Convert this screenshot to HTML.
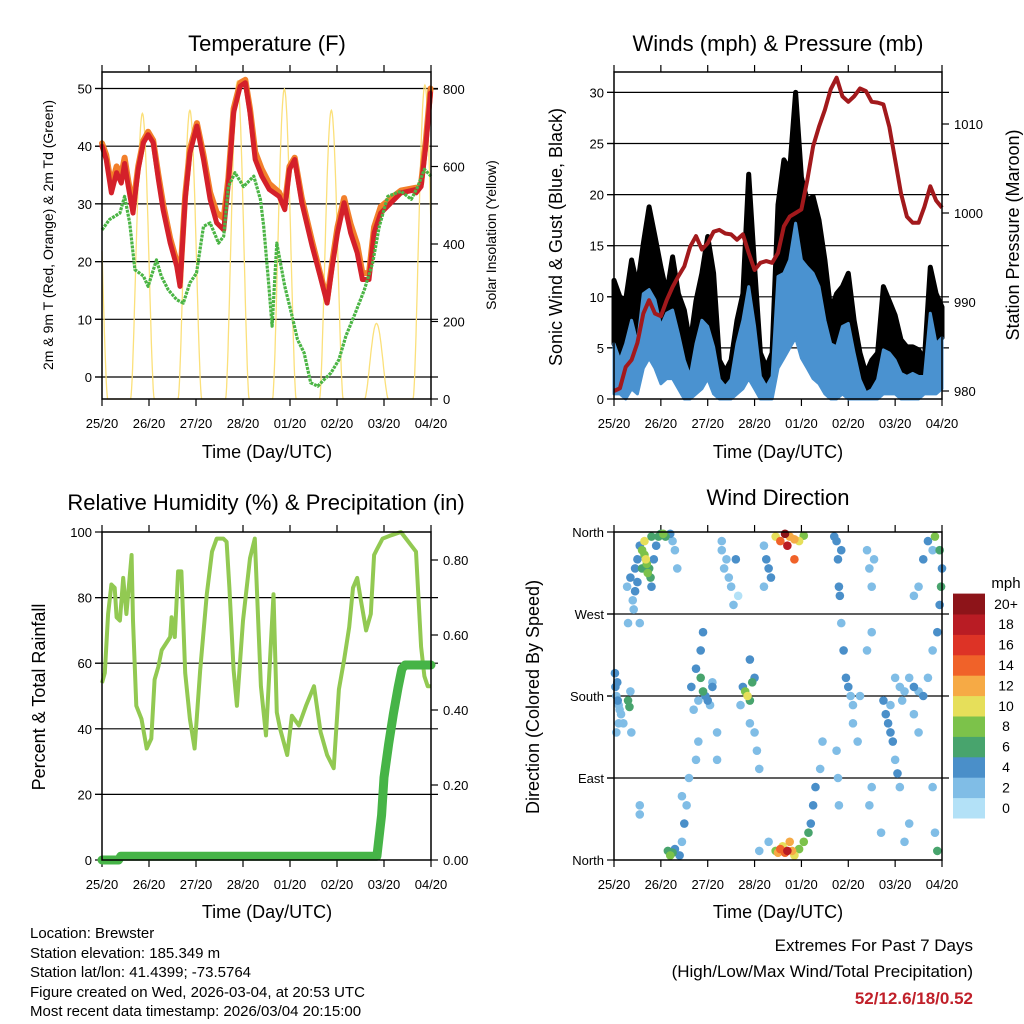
<!DOCTYPE html>
<html><head><meta charset="utf-8"><style>
body{margin:0;background:#fff;}
svg{display:block;font-family:"Liberation Sans",sans-serif;}
</style></head><body>
<svg id="s" width="1024" height="1024" viewBox="0 0 1024 1024">
<rect width="1024" height="1024" fill="#fff"/>
<g font-size="22" text-anchor="middle" fill="#000">
<text x="267" y="51">Temperature (F)</text>
<text x="778" y="51">Winds (mph) &amp; Pressure (mb)</text>
<text x="266" y="510">Relative Humidity (%) &amp; Precipitation (in)</text>
<text x="778" y="505">Wind Direction</text>
</g>
<g font-size="18" text-anchor="middle">
<text x="267" y="458">Time (Day/UTC)</text>
<text x="778" y="458">Time (Day/UTC)</text>
<text x="267" y="918">Time (Day/UTC)</text>
<text x="778" y="918">Time (Day/UTC)</text>
<text transform="translate(53,235) rotate(-90)" font-size="14">2m &amp; 9m T (Red, Orange) &amp; 2m Td (Green)</text>
<text transform="translate(496,235) rotate(-90)" font-size="14">Solar Insolation (Yellow)</text>
<text transform="translate(562,237) rotate(-90)">Sonic Wind &amp; Gust (Blue, Black)</text>
<text transform="translate(1019,235) rotate(-90)">Station Pressure (Maroon)</text>
<text transform="translate(45,697) rotate(-90)">Percent &amp; Total Rainfall</text>
<text transform="translate(539,697) rotate(-90)">Direction (Colored By Speed)</text>
</g>
<g font-size="15">
<text x="30" y="938">Location: Brewster</text>
<text x="30" y="958">Station elevation: 185.349 m</text>
<text x="30" y="977">Station lat/lon: 41.4399; -73.5764</text>
<text x="30" y="997">Figure created on Wed, 2026-03-04, at 20:53 UTC</text>
<text x="30" y="1016">Most recent data timestamp: 2026/03/04 20:15:00</text>
</g>
<g font-size="17" text-anchor="end">
<text x="973" y="951">Extremes For Past 7 Days</text>
<text x="973" y="977">(High/Low/Max Wind/Total Precipitation)</text>
<text x="973" y="1004" font-weight="bold" fill="#c0202a">52/12.6/18/0.52</text>
</g>
<g id="plots"></g>
</svg>
<script>
const dayLabels=["25/20","26/20","27/20","28/20","01/20","02/20","03/20","04/20"];
const tempT=[0,0.09,0.2,0.31,0.41,0.48,0.56,0.66,0.77,0.88,0.98,1.09,1.2,1.3,1.45,1.59,1.66,1.77,1.87,2.02,2.16,2.3,2.44,2.59,2.69,2.8,2.94,3.05,3.15,3.26,3.4,3.56,3.77,3.89,3.99,4.1,4.25,4.47,4.64,4.79,4.9,5.01,5.15,5.29,5.43,5.54,5.68,5.79,5.93,6.15,6.36,6.68,6.68,6.79,6.89,6.99];
const tempRed=[40,37.7,31.9,35.4,33.6,37,33,28.4,36,40.6,42,40.6,34.2,29,23.2,19.2,15.7,30.8,38.8,43.5,37.7,30.8,26.7,25.5,33.6,45.8,50.4,51,45.8,37.7,34.8,32.5,31.3,29,36,37.7,30.2,22.7,17.5,12.8,19.2,25,30.2,25,21.5,16.9,16.9,25,28.4,30.2,31.9,32.5,31.9,33,40,49.2];
const tempOrange=[40.5,38.5,33,36.5,35,38,34,29.5,36.5,41,42.5,41,35,30,24,20,16.5,31.5,39.5,44,38.5,32,28.5,27.5,34.5,46.5,51,51.5,46.5,39,36,33.5,32,29.8,36.5,38,31,23.5,18,13.3,20,26,31,26.5,23,18,18,26,29.5,31,32.3,32.8,32.2,33.5,41,50];
const tdT=[0,0.16,0.38,0.48,0.59,0.7,0.88,0.98,1.16,1.26,1.41,1.59,1.73,1.87,2.01,2.16,2.3,2.48,2.59,2.69,2.83,3.01,3.23,3.37,3.44,3.55,3.62,3.72,3.89,4.01,4.16,4.3,4.44,4.59,4.72,4.87,5.04,5.19,5.39,5.58,5.76,5.9,6.08,6.36,6.58,6.72,6.86,7];
const tdVals=[25.5,27.3,28.4,31.3,26.7,18.6,17.5,15.7,20.3,17.5,15.1,13.4,12.8,16.3,18,26.1,26.7,23.2,24.4,33,35.4,33,34.8,30.8,26.1,15.7,8.8,23.2,15.7,11.7,6.5,4.2,-1,-1.6,-0.5,0.7,3,7.1,11.1,15.1,19.8,26.1,31.3,32.2,30.8,33,36,34.8];
const solarCenters=[-0.13,0.86,1.87,2.88,3.88,4.88,5.84,6.87];
const solarPeaks=[700,737,745,820,800,745,195,810];
const windT=[0,0.125,0.25,0.375,0.5,0.625,0.75,0.875,1,1.125,1.25,1.375,1.5,1.625,1.75,1.875,2,2.125,2.25,2.375,2.5,2.625,2.75,2.875,3,3.125,3.25,3.375,3.5,3.625,3.75,3.875,4,4.125,4.25,4.375,4.5,4.625,4.75,4.875,5,5.125,5.25,5.375,5.5,5.625,5.75,5.875,6,6.125,6.25,6.375,6.5,6.625,6.75,6.875,7];
const gustVals=[11.6,10,9.7,13.6,11,15.2,18.8,15.9,12.9,10.3,13.9,10.3,8.7,5.4,9.6,12.3,15.9,12.3,3.8,2.7,3.8,7.7,10.3,22,12.9,4.5,3.1,4.5,19,23.4,22.4,30,21.7,19.4,19.8,17.5,13.6,8.7,10.3,11,12.3,7.7,4.5,2.5,3.8,4.5,11,9.6,8.2,5.8,5.1,5.1,4.8,3.8,12.9,10.3,9];
const windHi=[5.4,3.8,5.4,7.7,5.4,10.3,10.7,9.7,7.1,8.4,8.7,6.4,3.8,2.2,5.4,7.7,7.1,5.1,1.9,1.2,1.9,5.4,7.7,11,7.1,2.2,1.2,2.2,12,12.3,13.6,17.2,13.6,12.9,12.3,11,7.7,5.4,5.1,7.1,7.4,4.5,1.9,0.6,0.9,1.9,4.8,4.5,3.8,2.5,2.2,2.5,2.2,2.2,8.4,5.4,6];
const windLo=[0.5,0.5,0,1,0.5,3,4,3,1.5,2,2,1,0,0,0.5,1,2,0.5,0,0,0,0.5,1,2,1,0,0,0,3,4,5,6,4,3,2,1.5,0.5,0,0,0.5,0,0,0,0,0,0,0.5,0.5,0.5,0,0,0,0,0.5,0.5,0.5,1];
const pressVals=[980,980.3,982.7,983.5,985.4,988.7,990.2,988.7,988.4,990.2,991.7,992.9,994,996.2,997.4,995.9,996.6,997.9,998.1,997.7,997.6,997,997.6,995.5,993.6,994.4,994.6,994.4,995.5,998.5,999.6,1000,1000.4,1003.7,1007.5,1009.7,1011.6,1013.9,1015.2,1013.1,1012.5,1013.1,1014,1013.7,1012.5,1012.4,1012.2,1009.7,1006,1002.2,999.6,998.9,998.9,1000.7,1003,1001.4,1000.6];
const rhT=[0,0.06,0.13,0.2,0.27,0.31,0.38,0.45,0.52,0.63,0.66,0.73,0.84,0.95,1.05,1.12,1.2,1.27,1.45,1.48,1.55,1.62,1.69,1.77,1.87,1.97,2.09,2.23,2.34,2.44,2.58,2.65,2.71,2.8,2.87,3.0,3.15,3.25,3.38,3.49,3.65,3.72,3.79,3.94,4.04,4.19,4.34,4.51,4.65,4.79,4.93,5.04,5.15,5.26,5.34,5.43,5.51,5.62,5.72,5.79,5.86,5.97,6.15,6.36,6.68,6.79,6.86,6.93,7];
const rhVals=[54,57,75,84,83,74,73,86,75,93,73,47,43,34,37,55,59,64,68,74,68,88,88,57,43,34,58,81,94,98,98,97,83,58,47,73,92,98,53,38,81,45,40,32,44,41,47,53,39,32,28,52,61,71,83,86,79,70,75,93,95,98,99,100,94,65,56,53,53];
const precipT=[0,0.35,0.4,5.85,5.95,6.0,6.1,6.2,6.3,6.38,6.45,7];
const precipVals=[0,0,0.01,0.01,0.12,0.22,0.31,0.39,0.46,0.51,0.52,0.52];
const dirT=[0.02,0.03,0.05,0.08,0.1,0.12,0.15,0.2,0.07,0.3,0.33,0.35,0.05,0.37,0.1,
0.45,0.5,0.55,0.6,0.65,0.68,0.7,0.72,0.75,0.78,0.8,0.85,0.9,0.95,1.0,1.05,1.1,1.2,1.25,1.3,0.5,0.45,0.4,0.42,0.35,0.28,0.3,0.55,0.6,0.65,0.8,1.35,
1.15,1.2,1.25,1.3,1.4,1.45,1.5,1.45,1.55,1.6,0.55,0.55,
1.65,1.75,1.85,1.9,1.95,2.0,1.8,1.7,2.05,2.1,1.85,1.9,2.2,2.2,1.8,1.75,2.1,
2.3,2.35,2.4,2.45,2.5,2.55,2.6,2.3,2.65,
2.75,2.8,2.85,2.9,2.95,3.0,2.9,3.0,3.05,3.1,2.7,2.9,
3.45,3.5,3.55,3.6,3.65,3.7,3.75,3.8,3.85,3.95,4.05,4.15,4.2,4.25,4.3,4.4,4.45,3.3,3.1,
3.2,3.25,3.3,3.35,3.2,3.45,3.55,3.65,3.7,3.75,3.85,3.95,4.05,3.85,
4.75,4.78,4.8,4.82,4.85,4.9,4.95,5.0,5.05,5.1,4.75,4.78,4.8,5.1,5.2,5.25,4.85,4.7,
5.4,5.45,5.5,5.55,5.5,5.4,5.5,5.45,5.7,
5.75,5.8,5.85,5.9,5.95,6.0,6.05,6.1,5.9,6.0,6.1,6.15,6.2,
6.3,6.4,6.5,6.6,6.7,6.8,6.9,6.95,7.0,6.95,6.98,6.8,6.6,6.5,6.4,6.7,6.85,6.9,6.85,6.8,6.3,6.2,6.4,6.5];
const dirVals=[205,190,180,175,170,165,160,150,195,175,168,185,140,140,150,
320,330,345,340,335,330,325,315,320,310,300,330,345,355,358,358,355,358,350,340,305,295,285,275,310,300,260,260,320,350,355,320,
10,5,8,12,5,20,40,70,60,90,60,50,
190,210,200,185,180,175,175,165,170,190,230,250,140,110,130,110,195,
340,320,330,310,300,280,330,350,290,
190,185,180,175,195,200,220,140,120,100,170,150,
10,8,12,15,8,10,20,10,5,12,20,30,40,60,80,100,130,20,10,
345,330,320,310,300,355,350,358,345,355,352,350,356,330,
350,330,300,290,260,230,200,190,180,170,120,90,60,150,130,180,340,355,
340,320,300,330,250,230,80,60,30,
175,160,150,140,130,110,95,80,170,200,190,175,185,
200,190,185,180,200,230,250,280,320,340,300,340,330,300,290,350,355,10,30,80,40,20,160,140];
const dirSpeed=[3,4,2,3,2,2,2,1,4,6,6,2,1,1,1,
4,4,4,7,8,9,7,7,6,5,4,4,4,5,6,7,5,4,2,2,3,3,2,2,4,1,1,2,6,9,5,1,
5,7,6,4,4,2,3,2,1,1,1,1,
3,4,5,6,4,3,2,2,2,3,4,4,1,1,1,2,1,
1,1,2,1,2,1,3,1,0,
4,7,10,6,5,3,3,1,1,1,2,2,
8,11,13,10,14,18,11,12,9,8,7,6,4,4,3,2,2,1,1,
2,3,3,3,1,10,14,19,17,12,11,9,8,13,
4,4,4,3,2,4,4,3,2,2,2,2,2,1,1,1,4,4,
1,1,1,2,1,1,2,1,1,
3,3,4,3,3,2,3,2,2,2,2,2,2,
2,3,2,3,2,2,3,4,3,5,6,2,3,1,1,4,7,6,2,2,1,1,2,1];
const cbLabels=["0","2","4","6","8","10","12","14","16","18","20+"];
const cbColors=["#b3e1f7","#80bde6","#4a8fc9","#48a46d","#7cc24a","#e6df5a","#f6aa45","#f06229","#dd3326","#b91c24","#8d1419"];

const NS="http://www.w3.org/2000/svg";
const root=document.getElementById("plots");
function mk(tag,attrs,parent){const e=document.createElementNS(NS,tag);for(const k in attrs)e.setAttribute(k,attrs[k]);(parent||root).appendChild(e);return e;}
function pathOf(xs,ys){let d="";for(let i=0;i<xs.length;i++)d+=(i?"L":"M")+xs[i].toFixed(1)+","+ys[i].toFixed(1);return d;}

const P1={x0:102,x1:431,y0:72,y1:399};
const P2={x0:614,x1:942,y0:72,y1:399};
const P3={x0:102,x1:431,y0:532,y1:860};
const P4={x0:614,x1:942,y0:532,y1:860};
function xs(P){return t=>P.x0+t*(P.x1-P.x0)/7;}
const x1=xs(P1),x2=xs(P2),x3=xs(P3),x4=xs(P4);
const yT=v=>377-v*5.77, ySol=v=>399-v*310/800;
const yW=v=>399-v*10.22, yP=p=>391-(p-980)*8.9;
const yRH=v=>860-v*3.28, yPr=v=>860-v*375;
const yD=d=>860-d*328/360;

function frame(P,name,gridYs,leftTicks,rightTicks){
  const g=mk("g",{});
  
  
  gridYs.forEach(y=>{const l=mk("line",{x1:P.x0-7,x2:P.x1+7,y1:y,y2:y,stroke:"#000","stroke-width":1.2},g);
    
    });
  for(let d=0;d<=7;d++){const x=P.x0+d*(P.x1-P.x0)/7;
    mk("line",{x1:x,x2:x,y1:P.y1,y2:P.y1+7,stroke:"#000","stroke-width":1.2},g);
    mk("line",{x1:x,x2:x,y1:P.y0,y2:P.y0-7,stroke:"#000","stroke-width":1.2},g);
    const t=mk("text",{x:x,y:P.y1+29,"font-size":13,"text-anchor":"middle"},g);t.textContent=dayLabels[d];
    
    }
  leftTicks.forEach(([y,s])=>{mk("line",{x1:P.x0-7,x2:P.x0,y1:y,y2:y,stroke:"#000","stroke-width":1.2},g);
    const t=mk("text",{x:P.x0-10,y:y+5,"font-size":13,"text-anchor":"end"},g);t.textContent=s;
    
    });
  rightTicks.forEach(([y,s])=>{mk("line",{x1:P.x1,x2:P.x1+7,y1:y,y2:y,stroke:"#000","stroke-width":1.2},g);
    const t=mk("text",{x:P.x1+12,y:y+5,"font-size":13,"text-anchor":"start"},g);t.textContent=s;
    
    });
  return g;
}
function box(P){const r=mk("rect",{x:P.x0,y:P.y0,width:P.x1-P.x0,height:P.y1-P.y0,fill:"none",stroke:"#000","stroke-width":1.5});
  
  }

// ---- Panel 1
frame(P1,'temperature',[0,10,20,30,40,50].map(yT),[0,10,20,30,40,50].map(v=>[yT(v),String(v)]),[0,200,400,600,800].map(v=>[ySol(v),String(v)]));
{
  const sx=[],sy=[];
  for(let i=0;i<=700;i++){const t=i/100;let v=0;
    solarCenters.forEach((c,k)=>{const u=(t-c)/0.25;if(Math.abs(u)<1){v=Math.max(v,solarPeaks[k]*Math.pow(Math.cos(u*Math.PI/2),1.6));}});
    sx.push(x1(t));sy.push(ySol(v));}
  const s=mk("path",{d:pathOf(sx,sy),fill:"none",stroke:"#fbe07a","stroke-width":1.3});
  
  
  const o=mk("path",{d:pathOf(tempT.map(x1),tempOrange.map(yT)),fill:"none",stroke:"#f27f2a","stroke-width":6,"stroke-linejoin":"round","stroke-linecap":"round"});
  
  
  const r=mk("path",{d:pathOf(tempT.map(x1),tempRed.map(yT)),fill:"none",stroke:"#d4202a","stroke-width":5,"stroke-linejoin":"round","stroke-linecap":"round"});
  
  
  const g=mk("path",{d:pathOf(tdT.map(x1),tdVals.map(yT)),fill:"none",stroke:"#4bb545","stroke-width":3.2,"stroke-dasharray":"3 1","stroke-linejoin":"round"});
  
  
}
box(P1);

// ---- Panel 2
frame(P2,'winds',[5,10,15,20,25,30].map(yW),[0,5,10,15,20,25,30].map(v=>[yW(v),String(v)]),[980,990,1000,1010].map(v=>[yP(v),String(v)]));
{
  const bx=windT.map(x2).concat(windT.map(x2).reverse());
  const by=gustVals.map(yW).concat(windHi.map(yW).reverse());
  const k=mk("path",{d:pathOf(bx,by)+"Z",fill:"#000",stroke:"#000","stroke-width":5,"stroke-linejoin":"round"});
  
  
  const uy=windHi.map(yW).concat(windLo.map(yW).reverse());
  const b=mk("path",{d:pathOf(bx,uy)+"Z",fill:"#4a92d0",stroke:"#4a92d0","stroke-width":3,"stroke-linejoin":"round"});
  
  
  const p=mk("path",{d:pathOf(windT.map(x2),pressVals.map(yP)),fill:"none",stroke:"#a2191c","stroke-width":4,"stroke-linejoin":"round"});
  
  
}
box(P2);

// ---- Panel 3
frame(P3,'humidity',[20,40,60,80].map(yRH),[0,20,40,60,80,100].map(v=>[yRH(v),String(v)]),[0,0.2,0.4,0.6,0.8].map(v=>[yPr(v),v.toFixed(2)]));
{
  const r=mk("path",{d:pathOf(rhT.map(x3),rhVals.map(yRH)),fill:"none",stroke:"#92c952","stroke-width":4,"stroke-linejoin":"round"});
  
  
  const p=mk("path",{d:pathOf(precipT.map(x3),precipVals.map(yPr)),fill:"none",stroke:"#46b447","stroke-width":9,"stroke-linejoin":"round","stroke-linecap":"round"});
  
  
}
box(P3);

// ---- Panel 4
frame(P4,'direction',[90,180,270].map(yD),[[yD(0),"North"],[yD(90),"East"],[yD(180),"South"],[yD(270),"West"],[yD(360),"North"]],[]);
{
  const col=s=>cbColors[Math.min(10,Math.max(0,Math.round(s/2)))];
  const order=dirT.map((t,i)=>i).sort((a,b)=>dirSpeed[a]-dirSpeed[b]);
  order.forEach(i=>{const c=mk("circle",{cx:x4(dirT[i]),cy:yD(dirVals[i]),r:4.3,fill:col(dirSpeed[i])});
    
    });
}
box(P4);

{
  const g=mk("g",{});
  
  
  const t0=mk("text",{x:1006,y:588,"font-size":15,"text-anchor":"middle"},g);t0.textContent="mph";
  
  
  const h=20.4;
  cbColors.forEach((c,i)=>{const y=818-(i+1)*h;
    const r=mk("rect",{x:953,y:y,width:32,height:h+0.5,fill:c},g);
    
    
    const t=mk("text",{x:1006,y:y+h/2+5,"font-size":14,"text-anchor":"middle"},g);t.textContent=cbLabels[i];
    
    });
}
</script>
</body></html>
